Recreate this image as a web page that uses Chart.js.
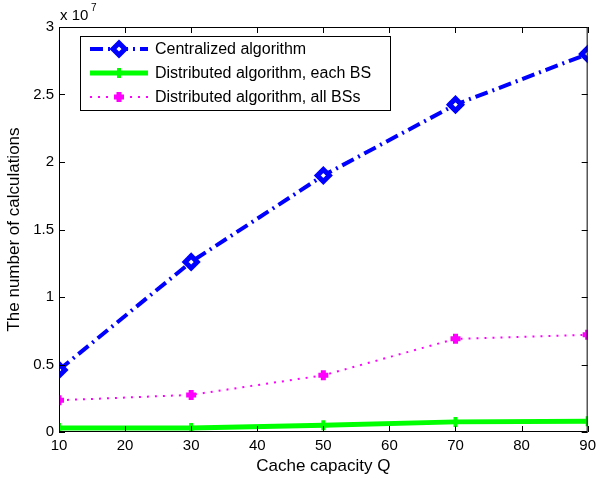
<!DOCTYPE html>
<html>
<head>
<meta charset="utf-8">
<script src="https://cdn.jsdelivr.net/npm/chart.js@4.4.0/dist/chart.umd.min.js"></script>
<style>
  body { margin: 0; background: #fff; }
  #wrap { width: 601px; height: 481px; }
</style>
</head>
<body>
<div id="wrap"><canvas id="myChart" width="601" height="481"></canvas></div>
<script>
// data (raw counts)
var capacity = [10, 30, 50, 70, 90];
var centralized = [4.6e6, 12.6e6, 19.0e6, 24.25e6, 28.0e6];
var eachBS = [0.3e6, 0.3e6, 0.5e6, 0.75e6, 0.8e6];
var allBSs = [2.35e6, 2.75e6, 4.2e6, 6.9e6, 7.2e6];
var xTicks = [10, 20, 30, 40, 50, 60, 70, 80, 90];
var yTicks = [0, 0.5e7, 1e7, 1.5e7, 2e7, 2.5e7, 3e7];

var FONT = "'Liberation Sans', Arial, Helvetica, sans-serif";

function pts(ys) {
  return capacity.map(function (x, i) { return {x: x, y: ys[i]}; });
}

// MATLAB style box, inward ticks, exponent label and legend
var matlabBits = {
  id: "matlabBits",
  afterDraw: function (chart) {
    var ctx = chart.ctx, a = chart.chartArea;
    var xs = chart.scales.x, ys = chart.scales.y;
    ctx.save();
    ctx.strokeStyle = "#000";
    ctx.lineWidth = 1;
    ctx.strokeRect(a.left + 0.5, a.top + 0.5, a.right - a.left - 1, a.bottom - a.top - 1);
    ctx.beginPath();
    xTicks.forEach(function (v) {
      var px = Math.round(xs.getPixelForValue(v)) + 0.5;
      ctx.moveTo(px, a.bottom); ctx.lineTo(px, a.bottom - 6);
      ctx.moveTo(px, a.top); ctx.lineTo(px, a.top + 6);
    });
    yTicks.forEach(function (v) {
      var py = Math.round(ys.getPixelForValue(v)) + 0.5;
      ctx.moveTo(a.left, py); ctx.lineTo(a.left + 6, py);
      ctx.moveTo(a.right, py); ctx.lineTo(a.right - 6, py);
    });
    ctx.stroke();

    // exponent label
    ctx.fillStyle = "#000";
    ctx.textBaseline = "alphabetic";
    ctx.textAlign = "left";
    ctx.font = "15px " + FONT;
    ctx.fillText("x 10", 60, 20);
    ctx.font = "10px " + FONT;
    ctx.fillText("7", 91, 11);

    // legend box
    var lx = 80, ly = 36, lw = 310, lh = 74;
    ctx.fillStyle = "#fff";
    ctx.fillRect(lx, ly, lw, lh);
    ctx.strokeRect(lx + 0.5, ly + 0.5, lw, lh);
    chart.data.datasets.forEach(function (ds, i) {
      var cy = ly + 13 + i * 24;
      ctx.save();
      ctx.strokeStyle = ds.borderColor;
      ctx.lineWidth = ds.borderWidth;
      ctx.setLineDash(ds.borderDash || []);
      ctx.beginPath();
      ctx.moveTo(lx + 10, cy); ctx.lineTo(lx + 68, cy);
      ctx.stroke();
      ctx.restore();
      ctx.save();
      ctx.fillStyle = ds.pointBackgroundColor;
      ctx.strokeStyle = ds.borderColor;
      ctx.lineWidth = ds.pointBorderWidth;
      Chart.helpers.drawPoint(ctx, {
        pointStyle: ds.pointStyle,
        radius: ds.pointRadius,
        borderWidth: ds.pointBorderWidth
      }, lx + 39, cy);
      ctx.restore();
      ctx.fillStyle = "#000";
      ctx.font = "16px " + FONT;
      ctx.textBaseline = "middle";
      ctx.fillText(ds.label, lx + 75, cy + 1);
    });
    ctx.restore();
  }
};

new Chart("myChart", {
  type: "line",
  data: {
    datasets: [{
      label: "Centralized algorithm",
      data: pts(centralized),
      borderColor: "#0000ff",
      borderWidth: 4,
      borderDash: [13, 5, 2, 5],
      pointStyle: "rectRot",
      pointRadius: 6,
      pointBorderWidth: 5,
      pointBackgroundColor: "#ffffff",
      pointBorderColor: "#0000ff"
    }, {
      label: "Distributed algorithm, each BS",
      data: pts(eachBS),
      borderColor: "#00ff00",
      borderWidth: 5,
      pointStyle: "cross",
      pointRadius: 5,
      pointBorderWidth: 4,
      pointBackgroundColor: "#00ff00",
      pointBorderColor: "#00ff00"
    }, {
      label: "Distributed algorithm, all BSs",
      data: pts(allBSs),
      borderColor: "#ff00ff",
      borderWidth: 2,
      borderDash: [2, 6],
      pointStyle: "cross",
      pointRadius: 5,
      pointBorderWidth: 5,
      pointBackgroundColor: "#ff00ff",
      pointBorderColor: "#ff00ff"
    }]
  },
  options: {
    responsive: false,
    animation: false,
    layout: {padding: {top: 27, right: 10, left: 0, bottom: 0}},
    plugins: {legend: {display: false}, tooltip: {enabled: false}},
    scales: {
      x: {
        type: "linear",
        min: 10, max: 90,
        afterBuildTicks: function (s) { s.ticks = xTicks.map(function (v) { return {value: v}; }); },
        afterFit: function (s) { s.height = 49; },
        grid: {display: false, drawTicks: false},
        border: {display: false},
        ticks: {color: "#000", font: {family: FONT, size: 15}, padding: 5, maxRotation: 0},
        title: {display: true, text: "Cache capacity Q", color: "#000", font: {family: FONT, size: 17}, padding: {top: 0}}
      },
      y: {
        min: 0, max: 3e7,
        afterBuildTicks: function (s) { s.ticks = yTicks.map(function (v) { return {value: v}; }); },
        afterFit: function (s) { s.width = 59; },
        grid: {display: false, drawTicks: false},
        border: {display: false},
        ticks: {color: "#000", font: {family: FONT, size: 15}, padding: 5,
          callback: function (v) { return String(Math.round(v / 1e6) / 10); }},
        title: {display: true, text: "The number of calculations", color: "#000", font: {family: FONT, size: 17}, padding: {bottom: 2}}
      }
    }
  },
  plugins: [matlabBits]
});
</script>
</body>
</html>
